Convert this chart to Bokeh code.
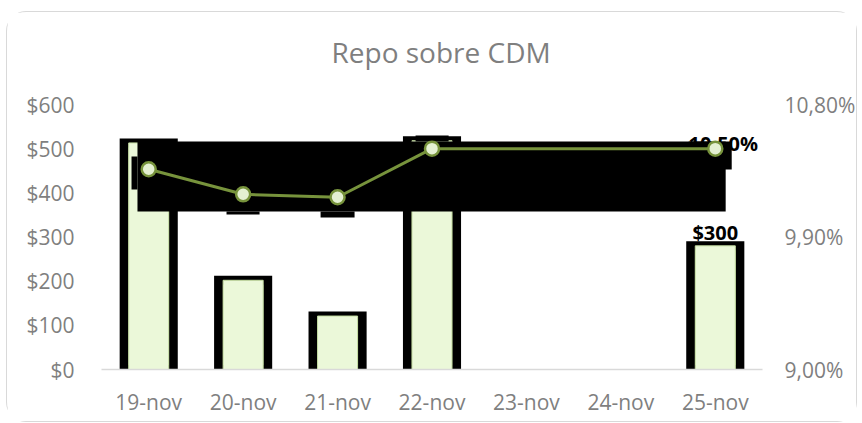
from bokeh.plotting import figure
from bokeh.models import Range1d, LinearAxis, FixedTicker, CustomJSTickFormatter
from bokeh.core.properties import value
from bokeh.embed import file_html
from bokeh.resources import INLINE

nan = float("nan")

# ---- data ----
days = ["19-nov", "20-nov", "21-nov", "22-nov", "23-nov", "24-nov", "25-nov"]
repo_amount = [513, 202, 121, 518, nan, nan, 280]      # left axis ($)
rate_days = ["19-nov", "20-nov", "21-nov", "22-nov", "25-nov"]
rate_pct = [10.36, 10.19, 10.17, 10.50, 10.50]         # right axis (%)
left_ticks = [0, 100, 200, 300, 400, 500, 600]
right_ticks = [9.00, 9.90, 10.80]
bar_label_day = ["25-nov"]
bar_label_val = [280]
bar_label_txt = ["$300"]
rate_label_day = ["25-nov"]
rate_label_val = [10.50]
rate_label_txt = ["10,50%"]

# rendering artefacts of the original (black label backgrounds), in axis units
art_left = [0.381, 6.218, 0.318, 3.326, 1.324, 2.32]
art_right = [6.61, 6.674, 0.381, 3.676, 1.674, 2.68]
art_bottom = [10.073, 10.359, 10.223, 10.549, 10.053, 10.033]
art_top = [10.549, 10.549, 10.447, 10.59, 10.073, 10.073]

FONT = "Open Sans"
GREY = "#7f7f7f"

p = figure(width=851, height=411, x_range=days, y_range=Range1d(0, 600),
           output_backend="svg", toolbar_location=None,
           min_border_left=94, min_border_right=96, min_border_top=92,
           min_border_bottom=54)
p.x_range.range_padding = 0
p.x_range.factor_padding = 0
p.extra_y_ranges = {"pct": Range1d(9.0, 10.8)}
p.outline_line_color = None
p.xgrid.visible = False
p.ygrid.visible = False
p.background_fill_color = "white"
p.border_fill_color = "white"
p.styles = {"border": "1px solid #d9d9d9", "border-radius": "20px",
            "margin-top": "11px", "margin-left": "6px"}

p.title.text = "Repo sobre CDM\n "
p.title.align = "left"
p.title.offset = 230
p.title.standoff = 2
p.title.text_line_height = 0.85
p.title.text_font = FONT
p.title.text_font_size = "28px"
p.title.text_font_style = "normal"
p.title.text_color = GREY

# bars
p.vbar(x=days, top=repo_amount, bottom=0, width=0.52, fill_color="#ebf8d9",
       line_color="black", line_width=9, line_join="miter")
p.vbar(x=days, top=repo_amount, bottom=0, width=0.424, fill_color="#ebf8d9",
       line_color="#c3dca0", line_width=1)

# data labels
p.text(x=bar_label_day, y=bar_label_val, text=bar_label_txt, text_align="center",
       text_baseline="bottom", y_offset=0, text_font=value(FONT),
       text_font_size="20px", text_font_style="bold", text_color="black")
p.text(x=rate_label_day, y=rate_label_val, text=rate_label_txt, text_align="center",
       text_baseline="middle", x_offset=8, y_offset=-5, text_font=value(FONT),
       text_font_size="20px", text_font_style="bold", text_color="black",
       y_range_name="pct")

# black artefact boxes
p.quad(left=art_left, right=art_right, bottom=art_bottom, top=art_top,
       fill_color="black", line_color=None, y_range_name="pct")

# rate line
p.line(x=rate_days, y=rate_pct, line_color="#77933c", line_width=3, y_range_name="pct")
p.scatter(x=rate_days, y=rate_pct, size=14, fill_color="#e4f0d2", line_color="#77933c",
          line_width=2.5, y_range_name="pct")

# axes
ya = p.yaxis[0]
ya.ticker = FixedTicker(ticks=left_ticks)
ya.formatter = CustomJSTickFormatter(code="return '$' + tick.toFixed(0);")
ya.axis_line_color = None
ya.major_tick_line_color = None
ya.minor_tick_line_color = None
ya.major_tick_out = 0
ya.minor_tick_out = 0
ya.major_label_text_font = FONT
ya.major_label_text_font_size = "21px"
ya.major_label_text_color = GREY
ya.major_label_standoff = 27

ra = LinearAxis(y_range_name="pct", ticker=FixedTicker(ticks=right_ticks),
                formatter=CustomJSTickFormatter(code="return tick.toFixed(2).replace('.', ',') + '%';"))
ra.axis_line_color = None
ra.major_tick_line_color = None
ra.minor_tick_line_color = None
ra.major_tick_out = 0
ra.minor_tick_out = 0
ra.major_label_text_font = FONT
ra.major_label_text_font_size = "21px"
ra.major_label_text_color = GREY
ra.major_label_standoff = 22
p.add_layout(ra, "right")

xa = p.xaxis[0]
xa.axis_line_color = "#d9d9d9"
xa.axis_line_width = 1.5
xa.major_tick_line_color = None
xa.minor_tick_line_color = None
xa.major_tick_out = 0
xa.minor_tick_out = 0
xa.major_label_text_font = FONT
xa.major_label_text_font_size = "21px"
xa.major_label_text_color = GREY
xa.major_label_standoff = 18

open("out.html", "w").write(file_html(p, INLINE))
